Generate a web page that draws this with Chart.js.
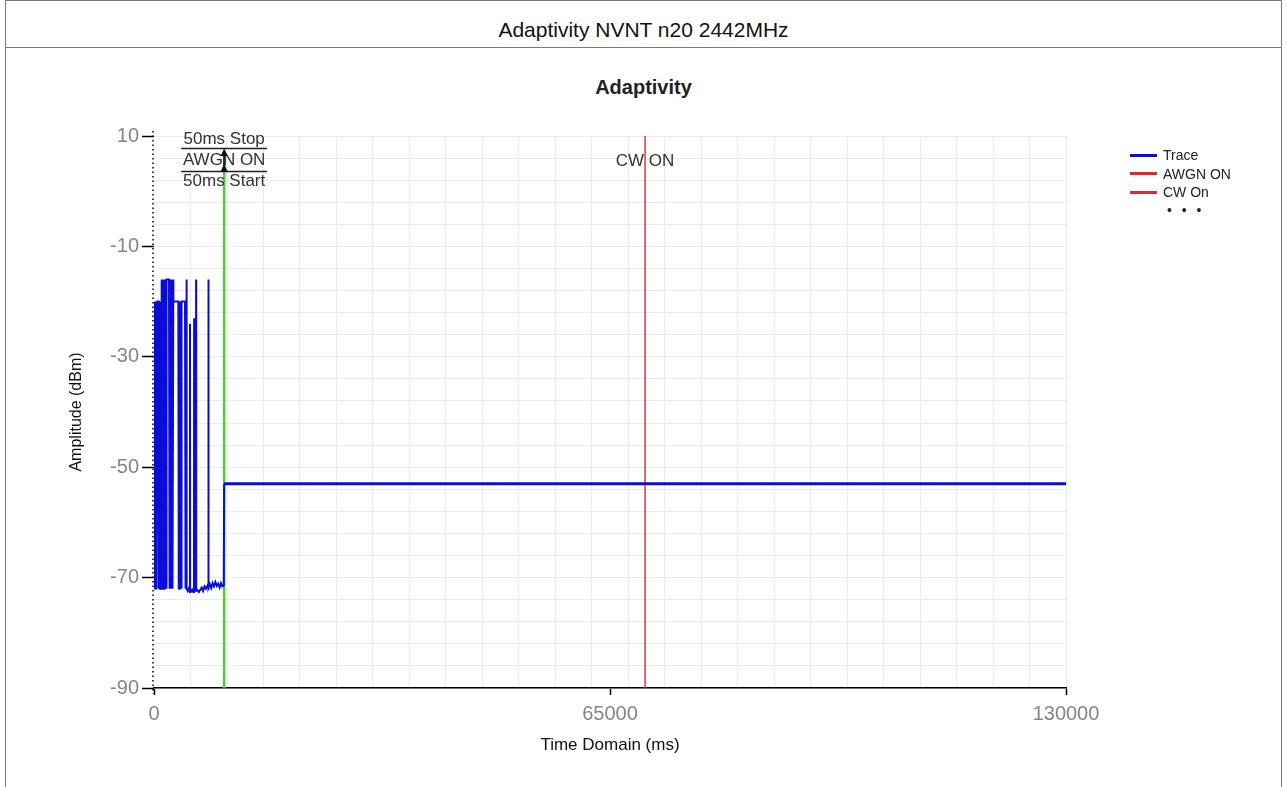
<!DOCTYPE html>
<html>
<head>
<meta charset="utf-8">
<script src="https://cdn.jsdelivr.net/npm/chart.js@4.4.0/dist/chart.umd.min.js"></script>
<style>
  body { margin: 0; background: #fff; font-family: "Liberation Sans", Arial, sans-serif; }
  #wrap { position: relative; width: 1287px; height: 787px; overflow: hidden; }
  #frame { position: absolute; left: 5px; top: 0; width: 1277px; height: 820px; border: 1px solid #7a7a7a; box-sizing: border-box; }
  #headline { position: absolute; left: 5px; top: 47px; width: 1277px; height: 0; border-top: 1px solid #7a7a7a; }
  #head { position: absolute; left: 0; top: 18px; width: 1287px; text-align: center; font-size: 21px; line-height: 24px; color: #111; }
  #title { position: absolute; left: 0; top: 75px; width: 1287px; text-align: center; font-size: 20px; font-weight: bold; line-height: 24px; color: #222; }
  #legend { position: absolute; left: 1130px; top: 146px; font-size: 14px; color: #222; }
  #legend .item { height: 18.5px; line-height: 18.5px; white-space: nowrap; }
  #legend .sw { display: inline-block; width: 27px; height: 3px; vertical-align: middle; margin-right: 6px; position: relative; top: -1px; }
  #legend .more { padding-left: 37px; line-height: 16px; font-size: 14px; letter-spacing: 3px; }
  canvas { position: absolute; left: 0; top: 0; }
</style>
</head>
<body>
<div id="wrap">
  <div id="frame"></div>
  <div id="headline"></div>
  <div id="head">Adaptivity NVNT n20 2442MHz</div>
  <div id="title">Adaptivity</div>
  <canvas id="adaptChart" width="1287" height="787"></canvas>
  <div id="legend"></div>
</div>
<script>
// trace: time (ms) and level (dBm)
const traceMs = [
  0, 30, 60, 100, 140, 180, 220, 260, 300, 340, 380, 420, 475,
  665, 705, 745, 785, 825, 865, 905, 945, 985, 1025, 1060, 1090,
  1130, 1170, 1210, 1250, 1290, 1330, 1370, 1410, 1450, 1490, 1530, 1570, 1610, 1650, 1690, 1730, 1770, 1805,
  2140, 2180, 2220, 2260, 2300, 2340, 2380, 2420, 2460, 2500, 2540, 2580, 2620, 2660, 2755, 2760,
  3470, 3510, 3550, 3590, 3630, 3670, 3710, 3750, 3790, 3830, 3870, 3910, 3945,
  4420, 4460, 4500, 4540, 4580, 4620, 4655,
  4675, 4800, 4950, 5100, 5130, 5150, 5300, 5450, 5600, 5700, 5720, 5740, 5850, 5985, 6000, 6020,
  6200, 6400, 6600, 6800, 7000, 7200, 7400, 7600, 7740, 7760, 7780,
  7950, 8150, 8350, 8550, 8750, 8950, 9150, 9350, 9550, 9750, 9950,
  10000, 130000
];
const traceDbm = [
  -20, -31, -20, -72, -20, -72, -21, -72, -20, -71, -20, -72, -20,
  -20, -72, -20, -72, -20, -72, -20, -72, -20, -72, -20, -16,
  -72, -16, -72, -16, -72, -16, -72, -16, -72, -16, -72, -16, -72, -16, -72, -16, -72, -16,
  -16, -72, -16, -72, -16, -72, -16, -72, -16, -72, -16, -71, -16, -72, -16, -20,
  -20, -72, -20, -72, -26, -72, -20, -72, -20, -71, -20, -72, -20,
  -20, -72, -20, -72, -20, -72, -16,
  -72, -72.4, -72, -72.6, -24, -72, -72.5, -72.2, -72.6, -72.3, -23, -72, -72.4, -72, -16, -72,
  -72.3, -72.6, -72.2, -71.8, -72.4, -71.6, -72, -71.5, -72, -16, -71.8,
  -71.2, -71.9, -71, -71.6, -70.8, -71.5, -71.1, -71.8, -71, -71.6, -71.4,
  -53, -53
];

// event markers
const awgnOnMs = 10000;
const cwOnMs = 70000;
const awgnSpan = [-90, 7.5];
const cwSpan = [-90, 10];
const awgnNotes = ['50ms Stop', 'AWGN ON', '50ms Start'];
const cwNote = 'CW ON';

// axes
const xTickValues = [0, 65000, 130000];
const yTickValues = [-90, -70, -50, -30, -10, 10];
const xGridStep = 5200;
const yGridStep = 4;

const legendLabels = ['Trace', 'AWGN ON', 'CW On'];
const legendColors = ['#0c0cd8', '#e02a2a', '#e02a2a'];

const FONT = '"Liberation Sans", Arial, sans-serif';
const gridColor = '#ececec';

// legend (html)
const legendBox = document.getElementById('legend');
legendLabels.forEach(function(lbl, i) {
  const row = document.createElement('div');
  row.className = 'item';
  row.innerHTML = '<span class="sw" style="background:' + legendColors[i] + '"></span>' + lbl;
  legendBox.appendChild(row);
});
const more = document.createElement('div');
more.className = 'more';
more.textContent = '• • •';
legendBox.appendChild(more);

const tracePts = traceMs.map(function(t, i) { return {x: t, y: traceDbm[i]}; });

// dotted y axis line
const dottedAxis = {
  id: 'dottedAxis',
  beforeDatasetsDraw(chart) {
    const {ctx, chartArea} = chart;
    ctx.save();
    ctx.strokeStyle = '#000';
    ctx.lineWidth = 1.5;
    ctx.setLineDash([1.5, 3]);
    ctx.beginPath();
    ctx.moveTo(chartArea.left - 1, chartArea.top - 5);
    ctx.lineTo(chartArea.left - 1, chartArea.bottom + 6);
    ctx.stroke();
    ctx.restore();
  }
};

// text and arrow over the markers
const markerNotes = {
  id: 'markerNotes',
  afterDatasetsDraw(chart) {
    const {ctx, chartArea, scales: {x}} = chart;
    const ax = x.getPixelForValue(awgnOnMs);
    const cx = x.getPixelForValue(cwOnMs);
    const top = chartArea.top;
    ctx.save();
    ctx.font = '17px ' + FONT;
    ctx.fillStyle = '#333';
    ctx.textAlign = 'center';
    ctx.textBaseline = 'middle';
    ctx.fillText(awgnNotes[0], ax, top + 3);
    ctx.fillText(awgnNotes[1], ax, top + 24);
    ctx.fillText(awgnNotes[2], ax, top + 45.5);
    ctx.fillText(cwNote, cx, top + 25);

    ctx.strokeStyle = '#222';
    ctx.lineWidth = 1.5;
    ctx.beginPath();
    ctx.moveTo(ax - 43, top + 12.5); ctx.lineTo(ax + 43, top + 12.5);
    ctx.moveTo(ax - 43, top + 35.5); ctx.lineTo(ax + 43, top + 35.5);
    ctx.stroke();

    // double arrow
    ctx.lineWidth = 2;
    ctx.beginPath();
    ctx.moveTo(ax, top + 15); ctx.lineTo(ax, top + 34);
    ctx.stroke();
    ctx.fillStyle = '#111';
    ctx.beginPath();
    ctx.moveTo(ax, top + 12.5); ctx.lineTo(ax - 3.5, top + 20); ctx.lineTo(ax + 3.5, top + 20); ctx.closePath();
    ctx.fill();
    ctx.beginPath();
    ctx.moveTo(ax, top + 28); ctx.lineTo(ax - 3.5, top + 35.5); ctx.lineTo(ax + 3.5, top + 35.5); ctx.closePath();
    ctx.fill();
    ctx.restore();
  }
};

new Chart(document.getElementById('adaptChart').getContext('2d'), {
  type: 'line',
  data: {
    datasets: [{
      label: legendLabels[0],
      data: tracePts,
      borderColor: legendColors[0],
      borderWidth: 2,
      segment: {
        borderWidth: function(ctx) { return ctx.p0.parsed.x >= awgnOnMs ? 3 : 2; }
      },
      pointRadius: 0,
      tension: 0,
      order: 0
    }, {
      label: legendLabels[1],
      data: [{x: awgnOnMs, y: awgnSpan[0]}, {x: awgnOnMs, y: awgnSpan[1]}],
      borderColor: '#4fc93d',
      borderWidth: 2.5,
      pointRadius: 0,
      order: 1
    }, {
      label: legendLabels[2],
      data: [{x: cwOnMs, y: cwSpan[0]}, {x: cwOnMs, y: cwSpan[1]}],
      borderColor: '#e0393e',
      borderWidth: 1.5,
      pointRadius: 0,
      order: 2
    }]
  },
  options: {
    responsive: false,
    animation: false,
    events: [],
    layout: { padding: { left: 63, top: 136, right: 221, bottom: 27 } },
    plugins: {
      legend: { display: false },
      title: { display: false },
      tooltip: { enabled: false }
    },
    scales: {
      x: {
        type: 'linear',
        min: 0,
        max: 130000,
        afterBuildTicks: function(scale) {
          const t = [];
          for (let v = 0; v <= 130000; v += xGridStep) t.push({value: v});
          xTickValues.forEach(function(v) { if (v % xGridStep !== 0) t.push({value: v}); });
          t.sort(function(a, b) { return a.value - b.value; });
          scale.ticks = t;
        },
        afterFit: function(scale) { scale.height = 72; },
        grid: {
          color: function(ctx) { return ctx.tick && ctx.tick.value % xGridStep === 0 && ctx.tick.value > 0 ? gridColor : 'rgba(0,0,0,0)'; },
          tickColor: function(ctx) { return ctx.tick && xTickValues.includes(ctx.tick.value) ? '#000' : 'rgba(0,0,0,0)'; },
          tickLength: 7,
          tickWidth: 1.5
        },
        border: { color: '#000', width: 1.5 },
        ticks: {
          autoSkip: false,
          maxRotation: 0,
          padding: 7,
          color: '#858585',
          font: { family: FONT, size: 20 },
          callback: function(v) { return xTickValues.includes(v) ? String(v) : ''; }
        },
        title: {
          display: true,
          text: 'Time Domain (ms)',
          color: '#111',
          font: { family: FONT, size: 17 },
          padding: { top: 4, bottom: 4 }
        }
      },
      y: {
        min: -90,
        max: 10,
        afterBuildTicks: function(scale) {
          const t = [];
          for (let v = -90; v <= 10; v += yGridStep) t.push({value: v});
          scale.ticks = t;
        },
        afterFit: function(scale) { scale.width = 91; },
        grid: {
          color: gridColor,
          tickColor: function(ctx) { return ctx.tick && yTickValues.includes(ctx.tick.value) ? '#000' : 'rgba(0,0,0,0)'; },
          tickLength: 12,
          tickWidth: 1.5
        },
        border: { display: false },
        ticks: {
          autoSkip: false,
          padding: 3,
          color: '#858585',
          font: { family: FONT, size: 20 },
          callback: function(v) { return yTickValues.includes(v) ? String(v) : ''; }
        },
        title: {
          display: true,
          text: 'Amplitude (dBm)',
          color: '#111',
          font: { family: FONT, size: 16 },
          padding: { top: 4, bottom: 4 }
        }
      }
    }
  },
  plugins: [dottedAxis, markerNotes]
});
</script>
</body>
</html>
